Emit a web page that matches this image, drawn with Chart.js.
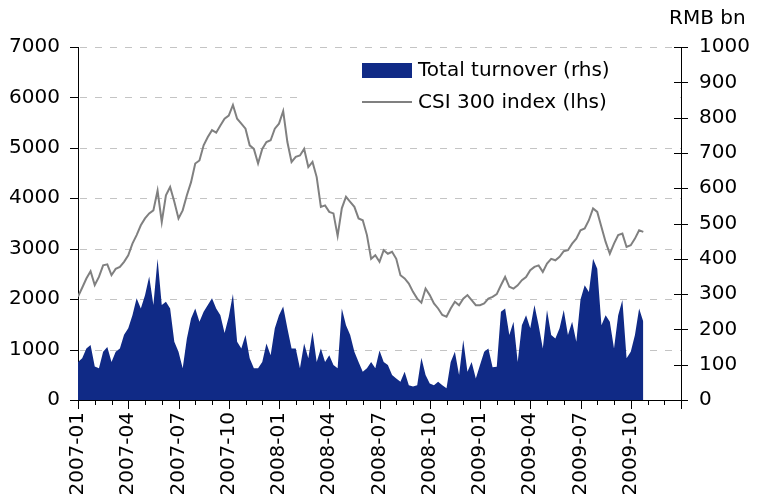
<!DOCTYPE html>
<html>
<head>
<meta charset="utf-8">
<script src="https://cdn.jsdelivr.net/npm/chart.js@4.4.0/dist/chart.umd.min.js"></script>
<style>
  html, body { margin: 0; padding: 0; background: #fff; }
</style>
</head>
<body>
<canvas id="turnoverChart" width="763" height="503"></canvas>
<script>
// CSI 300 index (lhs), one reading every quarter month from 2007-01
const csi300 = [
    2050, 2225, 2410, 2555, 2280, 2440, 2670, 2690,
    2475, 2600, 2640, 2740, 2870, 3100, 3270, 3465,
    3600, 3700, 3760, 4150, 3530, 4060, 4225, 3930,
    3600, 3760, 4060, 4320, 4690, 4750, 5050, 5215,
    5350, 5300, 5445, 5577, 5640, 5850, 5577, 5480,
    5380, 5050, 4980, 4690, 4980, 5115, 5150, 5380,
    5480, 5730, 5115, 4720, 4820, 4850, 4980, 4620,
    4720, 4420, 3830, 3860, 3730, 3700, 3255, 3800,
    4030, 3930, 3830, 3600, 3565, 3270, 2800, 2870,
    2740, 2970, 2900, 2940, 2800, 2475, 2410, 2310,
    2145, 2010, 1930, 2210, 2080, 1915, 1815, 1685,
    1650, 1815, 1950, 1880, 2010, 2080, 1980, 1880,
    1880, 1915, 2010, 2045, 2100, 2275, 2440, 2245,
    2210, 2275, 2375, 2440, 2575, 2640, 2670, 2540,
    2705, 2800, 2770, 2840, 2950, 2970, 3100, 3200,
    3365, 3400, 3565, 3800, 3730, 3430, 3135, 2900,
    3100, 3270, 3300, 3035, 3070, 3200, 3365, 3335
];

// Total turnover, RMB bn (rhs), same dates
const turnover = [
    108, 118, 146, 156, 95, 90, 137, 150,
    108, 137, 146, 185, 203, 240, 288, 259,
    297, 350, 269, 400, 269, 278, 259, 165,
    137, 90, 174, 231, 259, 222, 250, 269,
    288, 259, 240, 190, 236, 300, 165, 146,
    184, 118, 90, 90, 108, 160, 127, 203,
    240, 265, 203, 146, 146, 90, 160, 118,
    193, 108, 146, 108, 127, 99, 90, 259,
    212, 184, 137, 108, 80, 90, 108, 90,
    140, 108, 99, 71, 61, 52, 80, 42,
    38, 42, 120, 71, 47, 42, 52, 42,
    33, 108, 137, 71, 170, 80, 108, 61,
    99, 137, 146, 93, 94, 250, 259, 184,
    222, 108, 212, 240, 203, 269, 212, 146,
    255, 184, 174, 203, 255, 184, 222, 165,
    285, 325, 306, 400, 372, 212, 240, 222,
    146, 240, 283, 118, 137, 184, 259, 222
];

const tickLabels = [
    '2007-01', '2007-04', '2007-07', '2007-10',
    '2008-01', '2008-04', '2008-07', '2008-10',
    '2009-01', '2009-04', '2009-07', '2009-10'
];

const step = 0.25; // months between readings

const navy = '#102a86';
const grey = '#808080';

Chart.defaults.font.family = "'DejaVu Sans', Verdana, sans-serif";
Chart.defaults.font.size = 20;
Chart.defaults.color = '#000';

// dashed horizontal grid on the lhs ticks, under the data
const dashedGrid = {
    id: 'dashedGrid',
    beforeDatasetsDraw(chart) {
        const { ctx, chartArea: a, scales: { y } } = chart;
        ctx.save();
        ctx.strokeStyle = '#c4c4c4';
        ctx.lineWidth = 1;
        ctx.setLineDash([7, 8]);
        ctx.beginPath();
        y.ticks.forEach(t => {
            if (t.value === 0) return;
            const py = Math.round(y.getPixelForValue(t.value)) + 0.5;
            ctx.moveTo(a.left + 2, py);
            ctx.lineTo(a.right, py);
        });
        ctx.stroke();
        ctx.restore();
    }
};

// tick marks drawn by hand: long ones every quarter, crossing ones on the right axis
const tickMarks = {
    id: 'tickMarks',
    afterDraw(chart) {
        const { ctx, chartArea: a, scales: { x, y, y2 } } = chart;
        ctx.save();
        ctx.strokeStyle = '#000';
        ctx.lineWidth = 1;
        ctx.beginPath();
        x.ticks.forEach(t => {
            const px = Math.round(x.getPixelForValue(t.value)) + 0.5;
            const len = Math.round(t.value) % 3 === 0 ? 9 : 5;
            ctx.moveTo(px, a.bottom);
            ctx.lineTo(px, a.bottom + len);
        });
        y.ticks.forEach(t => {
            const py = Math.round(y.getPixelForValue(t.value)) + 0.5;
            ctx.moveTo(a.left - 8, py);
            ctx.lineTo(a.left, py);
        });
        y2.ticks.forEach(t => {
            const py = Math.round(y2.getPixelForValue(t.value)) + 0.5;
            ctx.moveTo(a.right - 7, py);
            ctx.lineTo(a.right + 7, py);
        });
        ctx.stroke();

        ctx.fillStyle = '#000';
        ctx.font = "20px 'DejaVu Sans'";
        ctx.textBaseline = 'middle';
        ctx.textAlign = 'left';
        ctx.fillText('RMB bn', 669, 19);
        ctx.restore();
    }
};

// legend sits inside the plot on a white patch
const boxLegend = {
    id: 'boxLegend',
    afterDatasetsDraw(chart) {
        const { ctx } = chart;
        ctx.save();
        ctx.fillStyle = '#fff';
        ctx.fillRect(302, 55, 377, 62);

        ctx.fillStyle = navy;
        ctx.fillRect(362, 63, 50, 15);
        ctx.strokeStyle = grey;
        ctx.lineWidth = 2;
        ctx.beginPath();
        ctx.moveTo(362, 102);
        ctx.lineTo(412, 102);
        ctx.stroke();

        ctx.fillStyle = '#000';
        ctx.font = "20px 'DejaVu Sans'";
        ctx.textBaseline = 'middle';
        ctx.fillText('Total turnover (rhs)', 418, 71);
        ctx.fillText('CSI 300 index (lhs)', 418, 103);
        ctx.restore();
    }
};

const ctx = document.getElementById('turnoverChart').getContext('2d');

new Chart(ctx, {
    type: 'line',
    data: {
        datasets: [
            {
                label: 'CSI 300 index (lhs)',
                data: csi300.map((v, i) => ({ x: i * step, y: v })),
                borderColor: grey,
                borderWidth: 2,
                pointRadius: 0,
                tension: 0,
                fill: false,
                yAxisID: 'y'
            },
            {
                label: 'Total turnover (rhs)',
                data: turnover.map((v, i) => ({ x: i * step, y: v })),
                borderWidth: 0,
                borderColor: navy,
                backgroundColor: navy,
                pointRadius: 0,
                tension: 0,
                fill: 'origin',
                yAxisID: 'y2'
            }
        ]
    },
    options: {
        responsive: false,
        animation: false,
        layout: { padding: { top: 47, left: 0, right: 0, bottom: 0 } },
        plugins: {
            legend: { display: false },
            tooltip: { enabled: false }
        },
        scales: {
            x: {
                type: 'linear',
                min: 0,
                max: 36,
                grid: { display: false, drawTicks: false },
                border: { display: true, color: '#000', width: 1 },
                ticks: {
                    stepSize: 1,
                    autoSkip: false,
                    maxRotation: 90,
                    minRotation: 90,
                    padding: 12,
                    callback: (v) => {
                        const m = Math.round(v);
                        return m % 3 === 0 && m <= 33 ? tickLabels[m / 3] : '';
                    }
                },
                afterFit: (s) => { s.height = 103; }
            },
            y: {
                position: 'left',
                min: 0,
                max: 7000,
                grid: { display: false, drawTicks: false },
                border: { display: true, color: '#000', width: 1 },
                ticks: { stepSize: 1000, padding: 18, callback: (v) => String(v) },
                afterFit: (s) => { s.width = 78; }
            },
            y2: {
                position: 'right',
                min: 0,
                max: 1000,
                grid: { display: false, drawTicks: false },
                border: { display: true, color: '#000', width: 1 },
                ticks: { stepSize: 100, padding: 18, callback: (v) => String(v) },
                afterFit: (s) => { s.width = 82; }
            }
        }
    },
    plugins: [dashedGrid, tickMarks, boxLegend]
});
</script>
</body>
</html>
